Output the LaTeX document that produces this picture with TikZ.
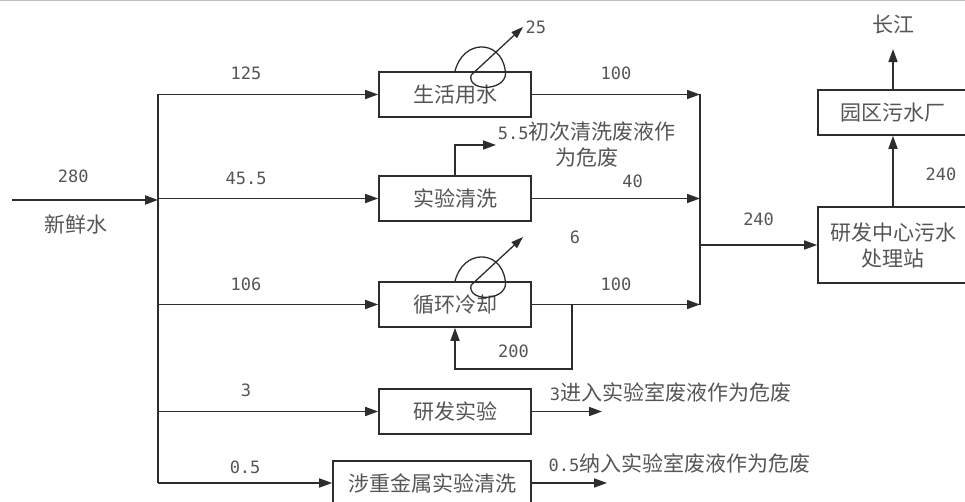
\documentclass[tikz,border=0pt]{standalone}
\usepackage{fontspec}
\setmainfont{Noto Sans CJK SC}
\newfontfamily\numfont{DejaVu Sans Mono}
\usepackage{tikz}
\usetikzlibrary{arrows.meta, positioning, calc}
\definecolor{LineDark}{RGB}{45, 45, 45}
\definecolor{InkGray}{RGB}{85, 85, 85}
\definecolor{FrameGray}{RGB}{190, 190, 190}

\begin{document}
\begin{tikzpicture}[
    x=1pt,
    y=-1pt,
    unitbox/.style={
        rectangle,
        draw=LineDark,
        line width=1.6pt,
        fill=white,
        minimum width=152pt,
        minimum height=45pt,
        inner sep=0pt,
        align=center,
        text=InkGray,
        font=\fontsize{21}{26}\selectfont
    },
    flowline/.style={
        draw=LineDark,
        line width=1.6pt,
        -{Triangle[length=13pt,width=9pt]}
    },
    pipeline/.style={
        draw=LineDark,
        line width=1.6pt
    },
    ventline/.style={
        draw=LineDark,
        line width=1.3pt,
        -{Triangle[length=12pt,width=8pt]}
    },
    numlabel/.style={
        text=InkGray,
        font=\numfont\fontsize{17}{20}\selectfont
    },
    cnlabel/.style={
        text=InkGray,
        align=center,
        font=\fontsize{21}{26}\selectfont
    }
]
\useasboundingbox (0,0) rectangle (965,502);
\clip (0,0) rectangle (965,502);
\draw[FrameGray, line width=1.5pt] (0,0.75) -- (965,0.75);
% -------------------------------------------------------------
% UNITS
% -------------------------------------------------------------
\node[unitbox] (lifeNode) at (455,94.5) {生活用水};
\node[unitbox] (washNode) at (455,198.5) {实验清洗};
\node[unitbox] (coolNode) at (455,304.5) {循环冷却};
\node[unitbox] (testNode) at (455,411.5) {研发实验};
\node[
    unitbox,
    minimum width=198pt,
    minimum height=44pt
] (metalNode) at (432,483) {涉重金属实验清洗};
% -------------------------------------------------------------
% TREATMENT
% -------------------------------------------------------------
\node[
    unitbox,
    minimum width=150pt,
    minimum height=76pt
] (stationNode) at (893,245)
{
    研发中心污水\\
    处理站
};
\node[
    unitbox,
    minimum width=150pt
] (parkNode) at (893,112.5) {园区污水厂};
\node[cnlabel] (riverNode) at (893,25) {长江};
% -------------------------------------------------------------
% JUNCTIONS
% -------------------------------------------------------------
\coordinate (inletStart) at (12,200);
\coordinate (trunkTop) at (158,94.5);
\coordinate (trunkBottom) at (158,483);
\coordinate (collectTop) at (700,94.5);
\coordinate (collectBottom) at (700,304.5);
\coordinate (recycleTap) at (572,304.5);
\coordinate (recycleCorner) at (572,369);
\coordinate (washVent) at (496,145);
\coordinate (lifeVent) at (523,27);
\coordinate (coolVent) at (523,237);
\coordinate (testOut) at (602,411.5);
\coordinate (metalOut) at (607,483);
% -------------------------------------------------------------
% FRESH WATER
% -------------------------------------------------------------
\draw[
    flowline,
    line width=2.2pt
]
(inletStart)
--
node[numlabel, above=13pt, pos=0.42] {280}
node[cnlabel, below=10pt, pos=0.44] {新鲜水}
(inletStart -| trunkTop);
\draw[pipeline] (trunkTop) -- (trunkBottom);
% -------------------------------------------------------------
% BRANCHES
% -------------------------------------------------------------
\draw[flowline]
(trunkTop)
--
node[numlabel, above=10.5pt, pos=0.4] {125}
(lifeNode.west);
\draw[flowline]
(trunkTop |- washNode.west)
--
node[numlabel, above=9.5pt, pos=0.4] {45.5}
(washNode.west);
\draw[flowline]
(trunkTop |- coolNode.west)
--
node[numlabel, above=9.5pt, pos=0.4] {106}
(coolNode.west);
\draw[flowline]
(trunkTop |- testNode.west)
--
node[numlabel, above=10.5pt, pos=0.4] {3}
(testNode.west);
\draw[flowline]
(trunkBottom)
--
node[numlabel, above=5.5pt, pos=0.5] {0.5}
(metalNode.west);
% -------------------------------------------------------------
% DRAINS TO COLLECTOR
% -------------------------------------------------------------
\draw[flowline]
(lifeNode.east)
--
node[numlabel, above=10.5pt] {100}
(collectTop);
\draw[flowline]
(washNode.east)
--
node[numlabel, above=6.5pt, pos=0.6] {40}
(collectTop |- washNode.east);
\draw[flowline]
(coolNode.east)
--
node[numlabel, above=9.5pt] {100}
(collectBottom);
\draw[pipeline] (collectTop) -- (collectBottom);
\draw[flowline]
(collectTop |- stationNode.west)
--
node[numlabel, above=15.5pt] {240}
(stationNode.west);
% -------------------------------------------------------------
% TREATMENT CHAIN
% -------------------------------------------------------------
\draw[flowline]
(stationNode.north)
--
node[numlabel, right=28.5pt, pos=0.45] {240}
(parkNode.south);
\draw[
    flowline,
    shorten >=11pt
]
(parkNode.north) -- (riverNode.south);
% -------------------------------------------------------------
% COOLING LOOP
% -------------------------------------------------------------
\draw[flowline]
(recycleTap)
--
(recycleCorner)
-|
node[numlabel, above=7.5pt, pos=0.25] {200}
(coolNode.south);
% -------------------------------------------------------------
% LOSSES
% -------------------------------------------------------------
\draw[ventline]
(lifeNode.north)
.. controls ($(lifeNode.north)+(8,-32)$) and ($(lifeNode.north)+(45,-32)$) ..
($(lifeNode.north)+(50,-2)$)
.. controls ($(lifeNode.north)+(56,20)$) and ($(lifeNode.north)+(12,22)$) ..
($(lifeNode.north)+(16,4)$)
--
(lifeVent) node[numlabel, right, inner sep=2pt] {25};
\draw[ventline]
(coolNode.north)
.. controls ($(coolNode.north)+(8,-32)$) and ($(coolNode.north)+(45,-32)$) ..
($(coolNode.north)+(50,-2)$)
.. controls ($(coolNode.north)+(56,20)$) and ($(coolNode.north)+(12,22)$) ..
($(coolNode.north)+(16,4)$)
--
(coolVent) node[numlabel, right=43pt] {6};
\draw[flowline]
(washNode.north)
|-
(washVent)
node[cnlabel, right, inner sep=1pt]
{
    {\numfont\fontsize{17}{20}\selectfont 5.5}初次清洗废液作\\
    为危废
};
% -------------------------------------------------------------
% HAZARDOUS WASTE
% -------------------------------------------------------------
\draw[flowline]
(testNode.east)
--
node[cnlabel, anchor=south west, pos=0.2, yshift=5pt]
{{\numfont\fontsize{17}{20}\selectfont 3}进入实验室废液作为危废}
(testOut);
\draw[flowline]
(metalNode.east)
--
node[cnlabel, anchor=south west, pos=0.17, yshift=6pt]
{{\numfont\fontsize{17}{20}\selectfont 0.5}纳入实验室废液作为危废}
(metalOut);
\end{tikzpicture}
\end{document}
